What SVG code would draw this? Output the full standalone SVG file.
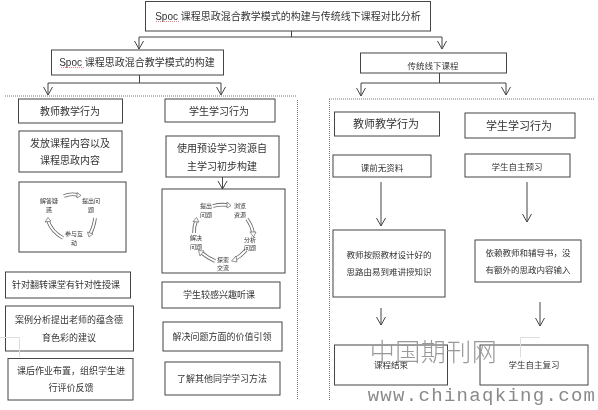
<svg xmlns="http://www.w3.org/2000/svg" width="598" height="410" viewBox="0 0 598 410">
<style>
text{font-family:"Liberation Sans","Noto Sans CJK SC",sans-serif;font-size:10px;fill:#333;text-anchor:middle}
.b{fill:#fff;stroke:#444;stroke-width:1}
.s{font-size:9px}.m{font-size:8.500px}.t{font-size:6px}.l{font-size:11px}
.c{fill:none;stroke:#444;stroke-width:1}
.a{fill:none;stroke:#444;stroke-width:1;marker-end:url(#v)}
.d{fill:none;stroke:#777;stroke-width:1;stroke-dasharray:1 1}
.o{fill:none;stroke:#666;stroke-width:3.600}
.i{fill:none;stroke:#fff;stroke-width:2}
.h{fill:#fff;stroke:#666;stroke-width:.7}
.sq{fill:none;stroke:#d33;stroke-width:.6;stroke-dasharray:1 1}
</style>
<defs>
<marker id="v" markerWidth="12" markerHeight="12" refX="10" refY="6" orient="auto" markerUnits="userSpaceOnUse" viewBox="0 0 12 12"><path d="M2 1.500 10 6 2 10.500" fill="none" stroke="#444" stroke-width="1"/></marker>
<filter id="f" x="0" y="0" width="100%" height="100%"><feGaussianBlur stdDeviation="0.35"/></filter>
</defs>
<rect width="598" height="410" fill="#fff"/>
<g filter="url(#f)">
<g id="connectors">
<path class="c" d="M291.500 31V37M139 37H442M139.500 75V83M48 83H221M439.500 73V83M361 83H506"/>
<path class="a" d="M139 37V49"/><path class="a" d="M442 37V49"/>
<path class="a" d="M48 83V95"/><path class="a" d="M221 83V95"/>
<path class="a" d="M361 83V96"/><path class="a" d="M506 83V95"/>
<path class="a" d="M222.500 177V189"/>
<path class="a" d="M381 182V226"/><path class="a" d="M527 182V222"/>
<path class="a" d="M381 308V325"/><path class="a" d="M540 302V326"/>
<path class="d" d="M5 96H296M297.500 100V400M329 99H594M329.500 99V400"/>
</g>
<g id="n-title"><rect class="b" x="145.500" y="1.500" width="285" height="29.500"/><text x="288" y="20">Spoc 课程思政混合教学模式的构建与传统线下课程对比分析</text><path class="sq" d="M156 21.500H179"/></g>
<g id="n-spoc"><rect class="b" x="51.500" y="50" width="172" height="25"/><text x="137" y="66">Spoc 课程思政混合教学模式的构建</text><path class="sq" d="M61 67.500H84"/></g>
<g id="n-trad"><rect class="b" x="360.500" y="53" width="146" height="20"/><text x="433" y="69" class="m">传统线下课程</text></g>
<g id="n-l-teach"><rect class="b" x="18.500" y="99" width="104" height="24"/><text x="70" y="115">教师教学行为</text></g>
<g id="n-l-stud"><rect class="b" x="165" y="99" width="110" height="23"/><text x="219" y="115">学生学习行为</text></g>
<g id="n-l1"><rect class="b" x="19" y="131" width="103" height="41"/><text x="70" y="147">发放课程内容以及</text><text x="70" y="164">课程思政内容</text></g>
<g id="n-l2"><rect class="b" x="166" y="136" width="113" height="41"/><text x="222" y="152">使用预设学习资源自</text><text x="222" y="170">主学习初步构建</text></g>
<g id="n-cycle-l"><rect class="b" x="19" y="182" width="107" height="70"/>
<path class="o" d="M64 196Q71 193 78 195"/><path class="i" d="M64 196Q71 193 78 195"/><path class="h" d="M77 192.500 81 195.500 77 198Z"/>
<path class="o" d="M95 218Q94 227 90 234"/><path class="i" d="M95 218Q94 227 90 234"/><path class="h" d="M87.500 232 89 237 93 234Z"/>
<path class="o" d="M63 238Q52 232 48 221"/><path class="i" d="M63 238Q52 232 48 221"/><path class="h" d="M45 222 48 217.500 51 221Z"/>
<text class="t" x="49" y="203">解答疑</text><text class="t" x="49" y="212">惑</text>
<text class="t" x="91" y="203">提出问</text><text class="t" x="91" y="212">题</text>
<text class="t" x="74" y="236">参与互</text><text class="t" x="74" y="245">动</text></g>
<g id="n-cycle-r"><rect class="b" x="162" y="189" width="123" height="84"/>
<path class="o" d="M213 206Q221 204 228 205"/><path class="i" d="M213 206Q221 204 228 205"/><path class="h" d="M227 202 231 205.500 227 208Z"/>
<path class="o" d="M247 219Q252 226 253 233"/><path class="i" d="M247 219Q252 226 253 233"/><path class="h" d="M250 232 253.500 237 256 232Z"/>
<path class="o" d="M246 250Q241 256 235 259"/><path class="i" d="M246 250Q241 256 235 259"/><path class="h" d="M236 256 231.500 261 237 262Z"/>
<path class="o" d="M215 261Q208 258 202 253"/><path class="i" d="M215 261Q208 258 202 253"/><path class="h" d="M200 256 198.500 250.500 204 251Z"/>
<path class="o" d="M194 233Q194 226 196 221"/><path class="i" d="M194 233Q194 226 196 221"/><path class="h" d="M193 221.500 196.500 217.500 199 222Z"/>
<text class="t" x="206" y="208">提出</text><text class="t" x="206" y="217">问题</text>
<text class="t" x="240" y="208">浏览</text><text class="t" x="240" y="217">资源</text>
<text class="t" x="250" y="242">分析</text><text class="t" x="250" y="250">问题</text>
<text class="t" x="223" y="262">探索</text><text class="t" x="223" y="270">交流</text>
<text class="t" x="196" y="240">解决</text><text class="t" x="196" y="249">问题</text></g>
<g id="n-l3"><rect class="b" x="5.500" y="272" width="125" height="26"/><text x="66" y="288" class="s">针对翻转课堂有针对性授课</text></g>
<g id="n-l4"><rect class="b" x="5.500" y="306" width="128" height="45"/><text x="69" y="323" class="s">案例分析提出老师的蕴含德</text><text x="69" y="341" class="s">育色彩的建议</text></g>
<g id="n-l5"><rect class="b" x="8" y="358.500" width="125" height="41.500"/><text x="71" y="374" class="s">课后作业布置，组织学生进</text><text x="71" y="391" class="s">行评价反馈</text></g>
<g id="n-s3"><rect class="b" x="162" y="282" width="118" height="26"/><text x="219" y="298" class="s">学生较感兴趣听课</text></g>
<g id="n-s4"><rect class="b" x="163" y="322" width="119" height="29"/><text x="222" y="340" class="s">解决问题方面的价值引领</text></g>
<g id="n-s5"><rect class="b" x="165" y="362" width="115" height="33"/><text x="222" y="382" class="s">了解其他同学学习方法</text></g>
<g id="n-r-teach"><rect class="b" x="334.500" y="112" width="105" height="24"/><text x="386" y="128" class="l">教师教学行为</text></g>
<g id="n-r-stud"><rect class="b" x="465" y="113" width="110" height="25"/><text x="519" y="130" class="l">学生学习行为</text></g>
<g id="n-r1"><rect class="b" x="333" y="155" width="98" height="22"/><text x="382" y="171" class="m">课前无资料</text></g>
<g id="n-r2"><rect class="b" x="465" y="154" width="105" height="23"/><text x="517" y="170" class="m">学生自主预习</text></g>
<g id="n-r3"><rect class="b" x="333" y="230" width="112" height="67"/><text x="389" y="258" class="m">教师按照教材设计好的</text><text x="389" y="275" class="m">思路由易到难讲授知识</text></g>
<g id="n-r4"><rect class="b" x="475" y="240" width="106" height="42"/><text x="528" y="256" class="m">依赖教师和辅导书，没</text><text x="528" y="273" class="m">有额外的思政内容输入</text></g>
<g id="n-r5"><rect class="b" x="334.500" y="345" width="113" height="40"/><text x="391" y="368" class="m">课程结束</text></g>
<g id="n-r6"><rect class="b" x="480" y="345" width="108" height="40"/><text x="534" y="368" class="m">学生自主复习</text></g>
<path d="M0 337.500H19.500V357M520.500 357V337.500H540" fill="none" stroke="#ddd"/>
<text x="433.500" y="361" style="font-family:'Liberation Serif','Noto Sans CJK SC',serif;font-size:25px;letter-spacing:0.500px;fill:#999;font-weight:300">中国期刊网</text>
<text x="482" y="401" style="font-family:'Liberation Mono',monospace;font-size:19px;letter-spacing:1.300px;fill:#8a8a8a">www.chinaqking.com</text>
</g>
</svg>
